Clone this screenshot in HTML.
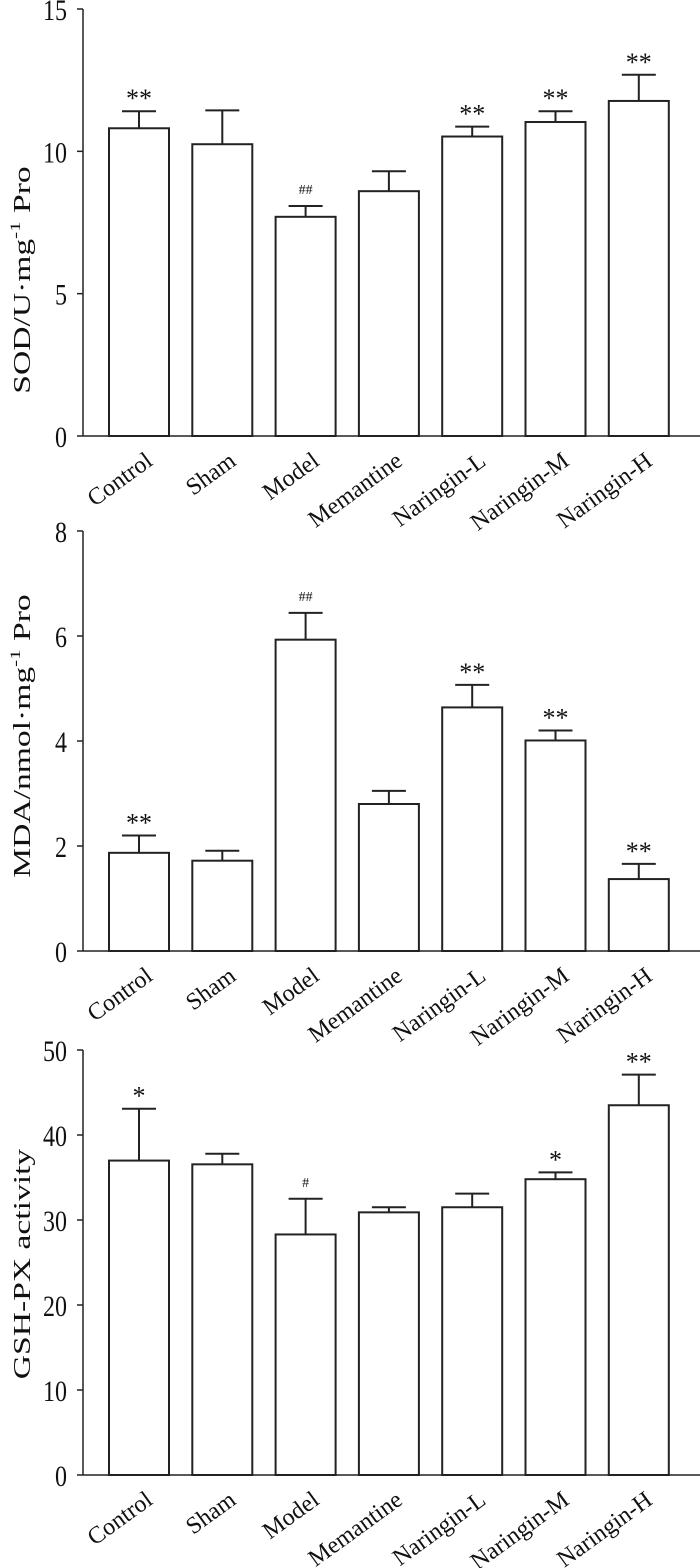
<!DOCTYPE html>
<html><head><meta charset="utf-8"><style>
html,body{margin:0;padding:0;background:#fff}
svg{display:block}
text{font-family:"Liberation Serif",serif;fill:#111}
</style></head><body>
<svg id="chart" width="700" height="1568" viewBox="0 0 700 1568" xmlns="http://www.w3.org/2000/svg"></svg>
<script>
const categories = ["Control","Sham","Model","Memantine","Naringin-L","Naringin-M","Naringin-H"];
const sodValues = [10.81,10.25,7.70,8.60,10.52,11.03,11.77];
const sodErrors = [0.60,1.19,0.38,0.70,0.35,0.38,0.92];
const sodMarks = ["**","","##","","**","**","**"];
const sodTicks = [0,5,10,15];
const mdaValues = [1.87,1.72,5.93,2.80,4.64,4.01,1.37];
const mdaErrors = [0.33,0.19,0.51,0.25,0.43,0.19,0.29];
const mdaMarks = ["**","","##","","**","**","**"];
const mdaTicks = [0,2,4,6,8];
const gshValues = [36.99,36.55,28.3,30.9,31.5,34.8,43.5];
const gshErrors = [6.1,1.25,4.2,0.6,1.6,0.8,3.6];
const gshMarks = ["*","","#","","","*","**"];
const gshTicks = [0,10,20,30,40,50];

const NS = "http://www.w3.org/2000/svg";
const svg = document.getElementById("chart");
function mk(tag, attrs, parent){
  const e = document.createElementNS(NS, tag);
  for (const k in attrs) e.setAttribute(k, attrs[k]);
  (parent||svg).appendChild(e);
  return e;
}
const axisX = 83, center0 = 139, step = 83.3, barW = 60, capW = 17;
function xPos(i){ return center0 + i*step; }

function panel(key, values, errors, marks, ticks, yMax, y0, yTop, title, titleY){
  const g = mk("g", {});
  
  
  const yScale = v => y0 - (v / yMax) * (y0 - yTop);
  const ya = mk("line", {x1:axisX, y1:yTop, x2:axisX, y2:y0, stroke:"#222", "stroke-width":1.5}, g);
  
  
  const xa = mk("line", {x1:axisX, y1:y0, x2:700, y2:y0, stroke:"#222", "stroke-width":1.5}, g);
  
  
  ticks.forEach(t => {
    const y = yScale(t);
    const tl = mk("line", {x1:axisX-6, y1:y, x2:axisX, y2:y, stroke:"#222", "stroke-width":1.5}, g);
    
    
    const tx = mk("text", {x:0, y:0, "text-anchor":"end", "font-size":24, transform:`translate(${axisX-16} ${y+11}) scale(1 1.25)`}, g);
    tx.textContent = t;
    
    
  });
  const tt = mk("text", {x:0, y:0, "text-anchor":"middle", "font-size":24, transform:`translate(30 ${titleY}) rotate(-90) scale(1.4 1)`}, g);
  tt.innerHTML = title;
  
  
  categories.forEach((c, i) => {
    const cx = xPos(i), top = yScale(values[i]), et = yScale(values[i] + errors[i]);
    const el = mk("line", {x1:cx, y1:et, x2:cx, y2:top, stroke:"#222", "stroke-width":2}, g);
    
    
    const cap = mk("line", {x1:cx-capW, y1:et, x2:cx+capW, y2:et, stroke:"#222", "stroke-width":2}, g);
    
    
    const r = mk("rect", {x:cx-barW/2, y:top, width:barW, height:y0-top, fill:"#fff", stroke:"#222", "stroke-width":2}, g);
    
    
    if (marks[i]) {
      const isHash = marks[i].indexOf("#") >= 0;
      const m = mk("text", {x:cx, y: isHash ? et-12 : et-4, "text-anchor":"middle", "font-size": isHash ? 14 : 26}, g);
      m.textContent = marks[i];
      
      
    }
    const lb = mk("text", {x:0, y:0, "text-anchor":"end", "font-size":24, transform:`translate(${cx+15} ${y0+28}) rotate(-36)`}, g);
    lb.textContent = c;
    
    
  });
}
panel("sod", sodValues, sodErrors, sodMarks, sodTicks, 15, 436, 9,
  'SOD/U·mg<tspan dy="-10" font-size="15">-1</tspan><tspan dy="10"> Pro</tspan>', 280);
panel("mda", mdaValues, mdaErrors, mdaMarks, mdaTicks, 8, 951, 531,
  'MDA/nmol·mg<tspan dy="-10" font-size="15">-1</tspan><tspan dy="10"> Pro</tspan>', 736);
panel("gsh", gshValues, gshErrors, gshMarks, gshTicks, 50, 1475, 1050, 'GSH-PX activity', 1264);
</script>
</body></html>
